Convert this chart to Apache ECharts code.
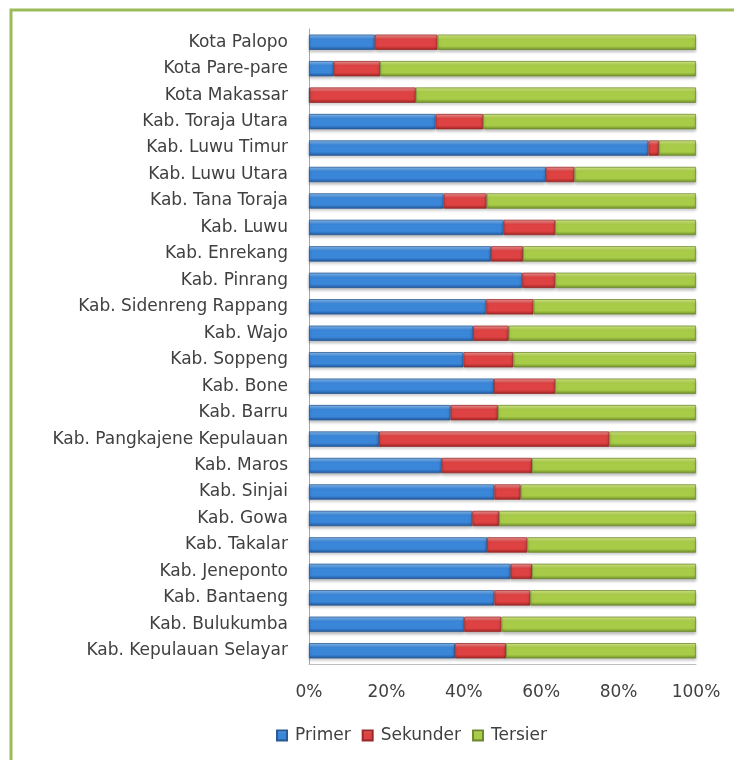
<!DOCTYPE html>
<html>
<head>
<meta charset="utf-8">
<script src="https://cdn.jsdelivr.net/npm/echarts@6/dist/echarts.min.js"></script>
<style>
  html, body { margin: 0; padding: 0; background: #fff; }
  #chart { width: 734px; height: 760px; }
</style>
</head>
<body>
<div id="chart"></div>
<script>
// categories from bottom to top (as ECharts draws a category y axis)
const regions = [
  "Kab. Kepulauan Selayar", "Kab. Bulukumba", "Kab. Bantaeng", "Kab. Jeneponto",
  "Kab. Takalar", "Kab. Gowa", "Kab. Sinjai", "Kab. Maros",
  "Kab. Pangkajene Kepulauan", "Kab. Barru", "Kab. Bone", "Kab. Soppeng",
  "Kab. Wajo", "Kab. Sidenreng Rappang", "Kab. Pinrang", "Kab. Enrekang",
  "Kab. Luwu", "Kab. Tana Toraja", "Kab. Luwu Utara", "Kab. Luwu Timur",
  "Kab. Toraja Utara", "Kota Makassar", "Kota Pare-pare", "Kota Palopo"
];
const primer = [
  37.7, 40.1, 47.9, 52.1, 46.0, 42.2, 47.9, 34.3,
  18.1, 36.6, 47.8, 39.9, 42.4, 45.8, 55.1, 47.0,
  50.3, 34.8, 61.2, 87.7, 32.7, 0.2, 6.4, 17.0
];
const sekunder = [
  13.2, 9.6, 9.3, 5.5, 10.4, 6.9, 6.8, 23.3,
  59.5, 12.2, 15.8, 12.9, 9.2, 12.2, 8.5, 8.3,
  13.3, 11.1, 7.4, 2.7, 12.3, 27.4, 12.0, 16.2
];
const tersier = [
  49.1, 50.3, 42.8, 42.4, 43.6, 50.9, 45.3, 42.4,
  22.4, 51.2, 36.4, 47.2, 48.4, 42.0, 36.4, 44.7,
  36.4, 54.1, 31.4, 9.6, 55.0, 72.4, 81.6, 66.8
];
const seriesNames = ["Primer", "Sekunder", "Tersier"];

function bevel(light, mid, dark) {
  return new echarts.graphic.LinearGradient(0, 0, 0, 1, [
    { offset: 0, color: light },
    { offset: 0.3, color: mid },
    { offset: 0.75, color: mid },
    { offset: 1, color: dark }
  ]);
}

const styles = [
  { color: bevel("#8cc0f2", "#3a86d9", "#22579c"), borderColor: "#2a5a96" },
  { color: bevel("#f29a9a", "#de4242", "#a02424"), borderColor: "#9a2a2a" },
  { color: bevel("#dcf08c", "#a8cc48", "#6f8f2a"), borderColor: "#6e8a30" }
];
const values = [primer, sekunder, tersier];

const myChart = echarts.init(document.getElementById("chart"));
const option = {
  animation: false,
  textStyle: { fontFamily: "DejaVu Sans" },
  grid: { left: 309, right: 38, top: 29, bottom: 96, containLabel: false },
  graphic: [
    {
      type: "rect",
      shape: { x: 11, y: 10, width: 760, height: 780 },
      style: { fill: "none", stroke: "#9bbb59", lineWidth: 3 },
      silent: true
    }
  ],
  legend: {
    data: seriesNames,
    bottom: 11,
    left: 271,
    icon: "rect",
    itemWidth: 10,
    itemHeight: 10,
    itemGap: 11,
    textStyle: { fontSize: 17, color: "#404040", padding: [0, 0, 0, 3] }
  },
  xAxis: {
    type: "value",
    min: 0,
    max: 100,
    interval: 20,
    axisLabel: {
      formatter: "{value}%",
      fontSize: 17,
      color: "#404040",
      margin: 20
    },
    axisLine: { show: true, lineStyle: { color: "#bfbfbf" } },
    axisTick: { show: false },
    splitLine: { show: false }
  },
  yAxis: {
    type: "category",
    data: regions,
    axisLabel: { fontSize: 17, color: "#404040", margin: 21 },
    axisLine: { lineStyle: { color: "#a6a6a6" } },
    axisTick: { show: false }
  },
  series: seriesNames.map(function (name, i) {
    return {
      name: name,
      type: "bar",
      stack: "total",
      barCategoryGap: "42%",
      data: values[i],
      itemStyle: {
        color: styles[i].color,
        borderColor: styles[i].borderColor,
        borderWidth: 0.8,
        shadowColor: "rgba(0,0,0,0.25)",
        shadowOffsetY: 2,
        shadowBlur: 3
      }
    };
  })
};
myChart.setOption(option);
</script>
</body>
</html>
